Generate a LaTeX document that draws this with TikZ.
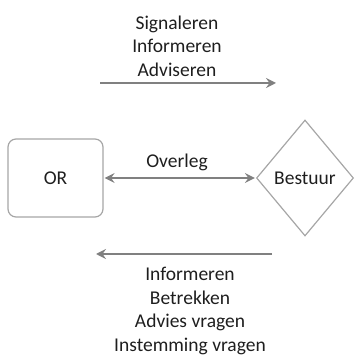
\documentclass[tikz,border=0pt]{standalone}
\usepackage{fontspec}
\setmainfont{Carlito}
\usepackage{tikz}
\usetikzlibrary{positioning,arrows.meta,shapes.geometric}
\definecolor{cArrow}{HTML}{808080}
\definecolor{cEdge}{HTML}{A6A6A6}
\definecolor{cText}{HTML}{1E1E1E}

\begin{document}
\begin{tikzpicture}[
  x=1pt,y=1pt,
  font=\fontsize{19.5}{23.6}\selectfont,
  text=cText,
  >={Stealth[length=10pt,width=10pt,inset=3.5pt]},
  party/.style={draw=cEdge,line width=1.2pt,rounded corners=8pt,minimum width=95pt,minimum height=78pt},
  board/.style={draw=cEdge,line width=1.2pt,diamond,inner sep=0pt,minimum width=97pt,minimum height=116pt},
  lbl/.style={align=center,inner sep=0pt},
  ar/.style={draw=cArrow,line width=2.6pt,shorten >=1pt,shorten <=1pt}
]
\useasboundingbox (0,0) rectangle (355,356);
\node[party] (or) at (55.5,178) {OR};
\node[board] (bestuur) at (305,178) {Bestuur};
\coordinate (topL) at (99,273);
\coordinate (topR) at (277,273);
\coordinate (botR) at (273,102);
\coordinate (botL) at (95,102);
\draw[ar,->] (topL) -- (topR);
\draw[ar,<->] (or) -- (bestuur);
\draw[ar,->] (botR) -- (botL);
\node[lbl] (overleg) at (177,194) {Overleg};
\node[lbl] (up) at (177,310) {Signaleren\\Informeren\\Adviseren};
\node[lbl] (down) at (190,45) {Informeren\\Betrekken\\Advies vragen\\Instemming vragen};
\end{tikzpicture}
\end{document}
